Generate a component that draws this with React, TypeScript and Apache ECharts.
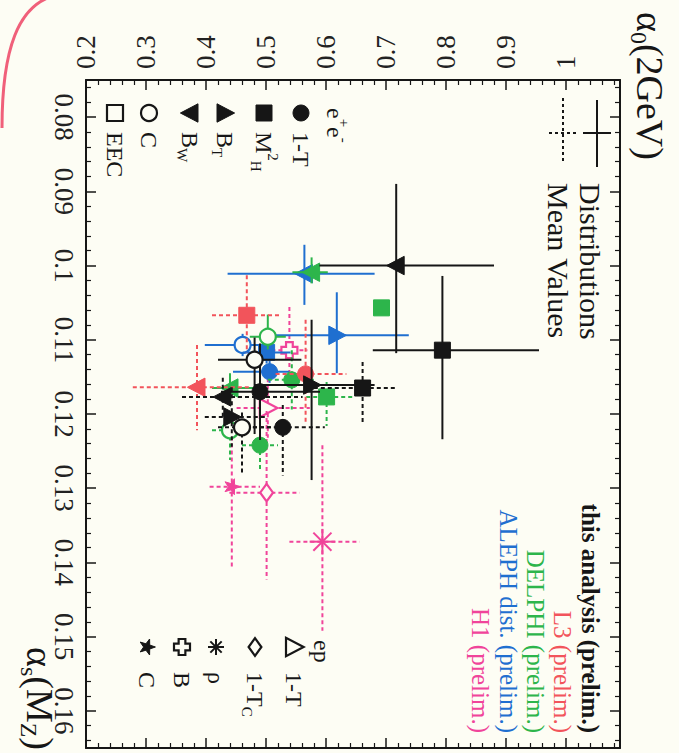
import React, { useEffect, useRef } from "react";
import * as echarts from "echarts";

const FONT = "'Liberation Serif', 'Times New Roman', serif";
const BG = "#fdfdf4";
const INK = "#161616";

const alpha0Labels = [0.2, 0.3, 0.4, 0.5, 0.6, 0.7, 0.8, 0.9, 1.0];
const alphaSMajor = [0.08, 0.09, 0.1, 0.11, 0.12, 0.13, 0.14, 0.15, 0.16];
const alphaSMinor: number[] = [];
for (let i = 0; i < 45; i++) {
  const v = Math.round((0.076 + i * 0.002) * 1000) / 1000;
  if (Math.round(v * 1000) % 10 !== 0) alphaSMinor.push(v);
}

// [shape, alpha0, a0Low, a0High, alphaS, asLow, asHigh, dashed(1=mean values), size]
type Pt = [string, number, number, number, number, number, number, number, number?];

const thisAnalysis: Pt[] = [
  ["tl", 0.717, 0.128, 0.163, 0.1, 0.011, 0.0118, 0],
  ["sq", 0.794, 0.116, 0.161, 0.1114, 0.01, 0.012, 0],
  ["tr", 0.576, 0.095, 0.105, 0.1161, 0.0088, 0.0128, 0],
  ["ci", 0.49, 0.065, 0.1, 0.117, 0.0065, 0.0065, 0],
  ["oc", 0.481, 0.061, 0.078, 0.1127, 0.003, 0.01, 0],
  ["sq", 0.661, 0.093, 0.058, 0.1165, 0.0035, 0.0046, 1],
  ["ci", 0.528, 0.05, 0.07, 0.1218, 0.003, 0.0065, 1],
  ["oc", 0.46, 0.04, 0.05, 0.1218, 0.002, 0.0063, 1],
  ["tl", 0.428, 0.068, 0.133, 0.1177, 0.0026, 0.003, 1],
  ["tr", 0.443, 0.045, 0.058, 0.1204, 0.004, 0.004, 1],
];
const l3: Pt[] = [
  ["tl", 0.385, 0.107, 0.09, 0.1164, 0.0057, 0.0058, 1],
  ["sq", 0.468, 0.058, 0.055, 0.1067, 0.0054, 0.005, 1],
  ["ci", 0.566, 0.05, 0.068, 0.1146, 0.0073, 0.0066, 1],
];
const delphi: Pt[] = [
  ["tl", 0.576, 0.032, 0.027, 0.1009, 0.002, 0.0015, 0],
  ["sq", 0.6925, 0, 0, 0.1057, 0, 0, 0],
  ["oc", 0.503, 0.03, 0.03, 0.1096, 0.003, 0.0017, 0],
  ["ci", 0.543, 0.04, 0.04, 0.1154, 0.004, 0.004, 1],
  ["sq", 0.601, 0.034, 0.043, 0.1177, 0.002, 0.0039, 1],
  ["ci", 0.49, 0.03, 0.03, 0.1242, 0.003, 0.0034, 1],
  ["tl", 0.44, 0.03, 0.045, 0.1165, 0.002, 0.002, 0],
  ["oc", 0.44, 0.03, 0.03, 0.1222, 0.002, 0.004, 1],
];
const aleph: Pt[] = [
  ["tl", 0.564, 0.128, 0.117, 0.1011, 0.0039, 0.0042, 0],
  ["tr", 0.618, 0.108, 0.12, 0.1094, 0.0058, 0.0051, 0],
  ["oc", 0.461, 0.063, 0.045, 0.1107, 0.0015, 0.0015, 0],
  ["ci", 0.506, 0.061, 0.033, 0.1143, 0.0015, 0.0015, 0],
  ["sq", 0.501, 0.04, 0.04, 0.1117, 0.0015, 0.0015, 0],
];
const h1: Pt[] = [
  ["pl", 0.539, 0.03, 0.03, 0.1114, 0.0058, 0.005, 1],
  ["ot", 0.503, 0.052, 0.07, 0.1192, 0.004, 0.004, 1],
  ["st", 0.443, 0.037, 0.047, 0.1298, 0.0077, 0.0111, 1],
  ["od", 0.501, 0.062, 0.055, 0.1306, 0.011, 0.0117, 1],
  ["as", 0.594, 0.055, 0.062, 0.1372, 0.013, 0.012, 1, 1.6],
];

const COLORS = {
  black: INK,
  red: "#f2545b",
  green: "#2db54b",
  blue: "#1f6fd0",
  magenta: "#f0449a",
};

const groups: { name: string; color: string; pts: Pt[] }[] = [
  { name: "H1 (prelim.)", color: COLORS.magenta, pts: h1 },
  { name: "ALEPH dist. (prelim.)", color: COLORS.blue, pts: aleph },
  { name: "DELPHI (prelim.)", color: COLORS.green, pts: delphi },
  { name: "L3 (prelim.)", color: COLORS.red, pts: l3 },
  { name: "this analysis (prelim.)", color: COLORS.black, pts: thisAnalysis },
];

function markerEls(kind: string, cx: number, cy: number, color: string, s = 1): any[] {
  const r = 8 * s;
  const fillSt = { fill: color, stroke: color, lineWidth: 1 };
  const openSt = { fill: BG, stroke: color, lineWidth: 2.2 };
  switch (kind) {
    case "ci":
      return [{ type: "circle", shape: { cx, cy, r }, style: fillSt }];
    case "oc":
      return [{ type: "circle", shape: { cx, cy, r }, style: openSt }];
    case "sq":
      return [{ type: "rect", shape: { x: cx - r, y: cy - r, width: 2 * r, height: 2 * r }, style: fillSt }];
    case "osq":
      return [{ type: "rect", shape: { x: cx - r, y: cy - r, width: 2 * r, height: 2 * r }, style: openSt }];
    case "tr":
      return [{ type: "polygon", shape: { points: [[cx + r * 1.2, cy], [cx - r, cy - r * 1.15], [cx - r, cy + r * 1.15]] }, style: fillSt }];
    case "tl":
      return [{ type: "polygon", shape: { points: [[cx - r * 1.2, cy], [cx + r, cy - r * 1.15], [cx + r, cy + r * 1.15]] }, style: fillSt }];
    case "ot":
      return [{ type: "polygon", shape: { points: [[cx + r * 1.2, cy], [cx - r, cy - r * 1.15], [cx - r, cy + r * 1.15]] }, style: openSt }];
    case "od":
      return [{ type: "polygon", shape: { points: [[cx, cy - r * 1.1], [cx + r * 0.8, cy], [cx, cy + r * 1.1], [cx - r * 0.8, cy]] }, style: openSt }];
    case "pl": {
      const a = r, w = r * 0.42;
      return [{
        type: "polygon",
        shape: {
          points: [
            [cx - w, cy - a], [cx + w, cy - a], [cx + w, cy - w], [cx + a, cy - w], [cx + a, cy + w], [cx + w, cy + w],
            [cx + w, cy + a], [cx - w, cy + a], [cx - w, cy + w], [cx - a, cy + w], [cx - a, cy - w], [cx - w, cy - w],
          ],
        },
        style: openSt,
      }];
    }
    case "st": {
      const pts: number[][] = [];
      for (let i = 0; i < 10; i++) {
        const rr = i % 2 === 0 ? r * 1.05 : r * 0.42;
        const ang = (i * Math.PI) / 5;
        pts.push([cx + rr * Math.cos(ang), cy + rr * Math.sin(ang)]);
      }
      return [{ type: "polygon", shape: { points: pts }, style: fillSt }];
    }
    case "as": {
      const out: any[] = [];
      for (let i = 0; i < 4; i++) {
        const ang = (i * Math.PI) / 4;
        out.push({
          type: "line",
          shape: { x1: cx - r * Math.cos(ang), y1: cy - r * Math.sin(ang), x2: cx + r * Math.cos(ang), y2: cy + r * Math.sin(ang) },
          style: { stroke: color, lineWidth: 2 },
        });
      }
      return out;
    }
  }
  return [];
}

function rtext(x: number, y: number, text: string, opts: any = {}): any {
  const align = opts.align || "left";
  return {
    type: "text",
    x,
    y,
    rotation: -Math.PI / 2,
    z: 100,
    style: {
      text,
      fill: opts.color || INK,
      fontSize: opts.size || 24,
      fontFamily: FONT,
      fontWeight: opts.bold ? "bold" : "normal",
      align,
      textAlign: align,
      verticalAlign: "middle",
      textVerticalAlign: "middle",
      rich: opts.rich,
    },
  };
}

function subRich(size: number, color = INK) {
  return {
    n: { fontSize: size, fontFamily: FONT, fill: color, color },
    s: { fontSize: Math.round(size * 0.62), fontFamily: FONT, fill: color, color, verticalAlign: "bottom", padding: [0, 0, -4, 0] },
    p: { fontSize: Math.round(size * 0.62), fontFamily: FONT, fill: color, color, verticalAlign: "top", padding: [-4, 0, 0, 0] },
  };
}

const eeLegend: [string, number, string][] = [
  ["osq", 115, "{n|EEC}"],
  ["oc", 149, "{n|C}"],
  ["tl", 190, "{n|B}{s|W}"],
  ["tr", 225, "{n|B}{s|T}"],
  ["sq", 264, "{n|M}{p|2}{s|H}"],
  ["ci", 301, "{n|1-T}"],
];
const epLegend: [string, number, string][] = [
  ["st", 147, "{n|C}"],
  ["pl", 182, "{n|B}"],
  ["as", 216, "{n|ρ}"],
  ["od", 255, "{n|1-T}{s|C}"],
  ["ot", 294, "{n|1-T}"],
];

function buildGraphic(): any[] {
  const els: any[] = [];
  // slide border corner
  els.push({
    type: "bezierCurve",
    shape: { x1: 2, y1: 128, cpx1: 2, cpy1: 45, cpx2: 20, cpy2: 8, x2: 50, y2: -3 },
    style: { stroke: "#f0607a", lineWidth: 3, fill: null },
  });
  // axis titles
  els.push(rtext(650, 12, "{n|α}{s|0}{n|(2GeV)}", { rich: subRich(38), size: 38 }));
  els.push(rtext(40, 750, "{n|α}{s|s}{n|(M}{s|Z}{n|)}", { rich: subRich(38), size: 38, align: "right" }));
  // e+e- legend
  els.push(rtext(335, 108, "{n|e}{p|+}{n|e}{p|-}", { rich: subRich(24) }));
  eeLegend.forEach(([k, x, t]) => {
    markerEls(k, x, 113, INK).forEach((e) => els.push({ ...e, z: 100 }));
    els.push(rtext(x, 132, t, { rich: subRich(24) }));
  });
  // ep legend
  els.push(rtext(322, 640, "{n|ep}", { rich: subRich(24) }));
  epLegend.forEach(([k, x, t]) => {
    markerEls(k, x, 647, INK).forEach((e) => els.push({ ...e, z: 100 }));
    els.push(rtext(x, 672, t, { rich: subRich(24) }));
  });
  // Distributions / Mean Values legend
  const lw = 2;
  els.push({ type: "line", z: 100, shape: { x1: 597, y1: 100, x2: 597, y2: 167 }, style: { stroke: INK, lineWidth: lw } });
  els.push({ type: "line", z: 100, shape: { x1: 583, y1: 133, x2: 611, y2: 133 }, style: { stroke: INK, lineWidth: lw } });
  els.push({ type: "line", z: 100, shape: { x1: 563, y1: 98, x2: 563, y2: 164 }, style: { stroke: INK, lineWidth: lw, lineDash: [3, 3] } });
  els.push({ type: "line", z: 100, shape: { x1: 549, y1: 133, x2: 577, y2: 133 }, style: { stroke: INK, lineWidth: lw, lineDash: [3, 3] } });
  els.push(rtext(590, 183, "Distributions", { size: 30 }));
  els.push(rtext(558, 183, "Mean Values", { size: 30 }));
  // experiment legend
  const expX = [590, 562, 535, 508, 480];
  const expOrder = [...groups].reverse();
  expOrder.forEach((g, i) => {
    els.push(rtext(expX[i], 733, g.name, { size: 25, color: g.color, bold: i === 0, align: "right" }));
  });
  // frame top line (explicit, to be safe)
  els.push({ type: "line", z: 90, shape: { x1: 86, y1: 80, x2: 620, y2: 80 }, style: { stroke: INK, lineWidth: 2 } });
  return els;
}

function makeSeries(g: { name: string; color: string; pts: Pt[] }): any {
  return {
    type: "custom",
    name: g.name,
    coordinateSystem: "cartesian2d",
    xAxisIndex: 0,
    yAxisIndex: 0,
    encode: { x: 0, y: 1 },
    data: g.pts.map((p) => [p[1], p[4]]),
    renderItem: (params: any, api: any) => {
      const p = g.pts[params.dataIndex];
      const [kind, a0, a0l, a0h, as, asl, ash, dashed, size] = p;
      const c = api.coord([a0, as]);
      const children: any[] = [];
      const ls = { stroke: g.color, lineWidth: 2, lineDash: dashed ? [4, 3] : null };
      if (a0l || a0h) {
        const x1 = api.coord([a0 - a0l, as])[0];
        const x2 = api.coord([a0 + a0h, as])[0];
        children.push({ type: "line", shape: { x1, y1: c[1], x2, y2: c[1] }, style: ls });
      }
      if (asl || ash) {
        const y1 = api.coord([a0, as - asl])[1];
        const y2 = api.coord([a0, as + ash])[1];
        children.push({ type: "line", shape: { x1: c[0], y1, x2: c[0], y2 }, style: ls });
      }
      markerEls(kind, c[0], c[1], g.color, size || 1).forEach((e) => children.push(e));
      return { type: "group", children };
    },
  };
}

export default function App() {
  const ref = useRef<HTMLDivElement>(null);
  useEffect(() => {
    if (!ref.current) return;
    const chart = echarts.init(ref.current, undefined, { renderer: "svg" });
    const axisLineStyle = { color: INK, width: 2 };
    const xBase = {
      type: "value",
      min: 0.2,
      max: 1.09,
      interval: 0.1,
      splitLine: { show: false },
      axisLine: { show: true, lineStyle: axisLineStyle },
      axisTick: { show: true, inside: true, length: 10, lineStyle: { color: INK, width: 1.5 } },
      minorTick: { show: true, splitNumber: 5, length: 5, lineStyle: { color: INK, width: 1.2 } },
      minorSplitLine: { show: false },
    };
    const yBase = {
      type: "value",
      min: 0.075,
      max: 0.165,
      inverse: true,
      splitLine: { show: false },
    };
    const option: any = {
      animation: false,
      backgroundColor: BG,
      grid: { left: 86, top: 80, width: 534, height: 668 },
      xAxis: [
        {
          ...xBase,
          position: "top",
          axisLabel: {
            show: true,
            rotate: -90,
            margin: 11,
            fontSize: 27,
            fontFamily: FONT,
            color: "#222",
            formatter: (v: number) => (v > 1.05 ? "" : String(Math.round(v * 10) / 10)),
            customValues: alpha0Labels,
          },
        },
        { ...xBase, position: "bottom", axisLabel: { show: false } },
      ],
      yAxis: [
        {
          ...yBase,
          position: "left",
          axisLine: { show: true, lineStyle: axisLineStyle },
          axisTick: { show: true, inside: true, length: 10, customValues: alphaSMajor, lineStyle: { color: INK, width: 1.5 } },
          axisLabel: {
            show: true,
            rotate: -90,
            margin: 9,
            fontSize: 27,
            fontFamily: FONT,
            color: "#222",
            customValues: alphaSMajor,
            formatter: (v: number) => String(Math.round(v * 100) / 100),
          },
        },
        {
          ...yBase,
          position: "left",
          axisLine: { show: false },
          axisTick: { show: true, inside: true, length: 5, customValues: alphaSMinor, lineStyle: { color: INK, width: 1.2 } },
          axisLabel: { show: false },
        },
        {
          ...yBase,
          position: "right",
          axisLine: { show: true, lineStyle: axisLineStyle },
          axisTick: { show: true, inside: true, length: 10, customValues: alphaSMajor, lineStyle: { color: INK, width: 1.5 } },
          axisLabel: { show: false },
        },
        {
          ...yBase,
          position: "right",
          axisLine: { show: false },
          axisTick: { show: true, inside: true, length: 5, customValues: alphaSMinor, lineStyle: { color: INK, width: 1.2 } },
          axisLabel: { show: false },
        },
      ],
      series: groups.map(makeSeries),
      graphic: { elements: buildGraphic() },
    };
    chart.setOption(option);
    return () => chart.dispose();
  }, []);
  return (
    <div
      ref={ref}
      style={{ position: "fixed", left: 0, top: 0, width: 679, height: 753, background: BG }}
    />
  );
}
